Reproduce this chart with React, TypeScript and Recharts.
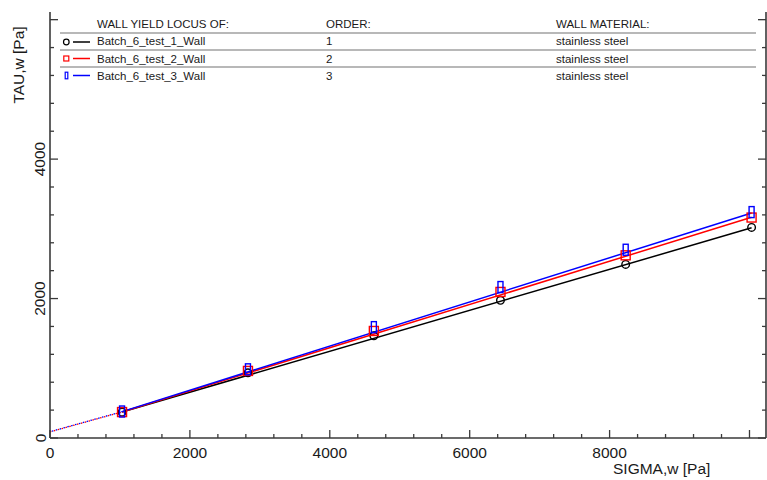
import React from 'react';
import { ComposedChart, Line, Scatter, XAxis, YAxis } from 'recharts';

// ---- data ----
const sigma = [1030, 2830, 4630, 6440, 8230, 10030];
const tauTest1 = [370, 935, 1465, 1975, 2490, 3020];
const tauTest2 = [372, 962, 1535, 2095, 2620, 3162];
const tauTest3 = [380, 985, 1590, 2165, 2700, 3240];

const fitSigma = [1030, 10030];
const fitTest1 = [372, 3015];
const fitTest2 = [374, 3165];
const fitTest3 = [378, 3228];

const extSigma = [0, 1030];
const extTest2 = [88, 374];
const extTest3 = [90, 378];

const seriesNames = ['Batch_6_test_1_Wall', 'Batch_6_test_2_Wall', 'Batch_6_test_3_Wall'];
const seriesOrder = ['1', '2', '3'];
const wallMaterials = ['stainless steel', 'stainless steel', 'stainless steel'];
const legendHeaders = ['WALL YIELD LOCUS OF:', 'ORDER:', 'WALL MATERIAL:'];
const seriesColors = ['#000000', '#ff0000', '#0000ff'];

const xTicks = [0, 400, 800, 1200, 1600, 2000, 2400, 2800, 3200, 3600, 4000, 4400, 4800, 5200, 5600, 6000, 6400, 6800, 7200, 7600, 8000, 8400, 8800, 9200, 9600, 10000];
const xLabelTicks = [0, 2000, 4000, 6000, 8000];
const yTicks = [0, 400, 800, 1200, 1600, 2000, 2400, 2800, 3200, 3600, 4000, 4400, 4800, 5200, 5600, 6000];
const yLabelTicks = [0, 2000, 4000];
const xMajor = [0, 2000, 4000, 6000, 8000, 10000];
const yMajor = [0, 2000, 4000, 6000];

const xTitle = 'SIGMA,w [Pa]';
const yTitle = 'TAU,w [Pa]';

const toPts = (xs: number[], ys: number[]) => xs.map((x, i) => ({ x, y: ys[i] }));

const pts1 = toPts(sigma, tauTest1);
const pts2 = toPts(sigma, tauTest2);
const pts3 = toPts(sigma, tauTest3);
const fit1 = toPts(fitSigma, fitTest1);
const fit2 = toPts(fitSigma, fitTest2);
const fit3 = toPts(fitSigma, fitTest3);
const ext2 = toPts(extSigma, extTest2);
const ext3 = toPts(extSigma, extTest3);

const FONT = '"Liberation Sans", Arial, sans-serif';
const AXIS = '#3a3a3a';
const TXT = '#1a1a1a';

const BottomTick = (p: any) => {
  const { x, y, payload } = p;
  const v = payload.value;
  const major = xMajor.includes(v);
  return (
    <g>
      <line x1={x} x2={x} y1={y} y2={y - (major ? 8 : 4)} stroke={AXIS} strokeWidth={1.3} />
      {xLabelTicks.includes(v) && (
        <text x={x} y={y + 19.5} textAnchor="middle" fontSize={15.5} fontFamily={FONT} fill={TXT}>
          {v}
        </text>
      )}
    </g>
  );
};

const TopTick = (p: any) => {
  const { x, y, payload } = p;
  const major = xMajor.includes(payload.value);
  return <line x1={x} x2={x} y1={y} y2={y + (major ? 8 : 4)} stroke={AXIS} strokeWidth={1.3} />;
};

const LeftTick = (p: any) => {
  const { x, y, payload } = p;
  const v = payload.value;
  const major = yMajor.includes(v);
  return (
    <g>
      <line x1={x} x2={x + (major ? 8 : 4)} y1={y} y2={y} stroke={AXIS} strokeWidth={1.3} />
      {yLabelTicks.includes(v) && (
        <text
          x={x - 4.5}
          y={y}
          transform={`rotate(-90 ${x - 4.5} ${y})`}
          textAnchor="middle"
          fontSize={15.5}
          fontFamily={FONT}
          fill={TXT}
        >
          {v}
        </text>
      )}
    </g>
  );
};

const RightTick = (p: any) => {
  const { x, y, payload } = p;
  const major = yMajor.includes(payload.value);
  return <line x1={x} x2={x - (major ? 8 : 4)} y1={y} y2={y} stroke={AXIS} strokeWidth={1.3} />;
};

const CircleShape = (p: any) => (
  <circle cx={p.cx} cy={p.cy} r={3.8} fill="none" stroke="#000" strokeWidth={1.4} />
);
const SquareShape = (p: any) => (
  <rect x={p.cx - 4.5} y={p.cy - 4.5} width={9} height={9} fill="none" stroke="#ff0000" strokeWidth={1.4} />
);
const RectShape = (p: any) => (
  <rect x={p.cx - 2.5} y={p.cy - 5.5} width={5} height={11} fill="none" stroke="#0000ff" strokeWidth={1.4} />
);

const LegendTable = () => {
  const rowY = [45, 62.5, 80];
  const centerY = [42, 58.5, 75.5];
  const lineY = [33, 50, 67];
  const colX = [97, 326, 556];
  return (
    <g fontFamily={FONT} fontSize={11.5} fill={TXT}>
      {legendHeaders.map((h, i) => (
        <text key={h} x={colX[i]} y={28.3}>
          {h}
        </text>
      ))}
      {lineY.map((ly) => (
        <line key={ly} x1={60} x2={756} y1={ly} y2={ly} stroke="#a0a0a0" strokeWidth={1.4} />
      ))}
      {seriesNames.map((n, i) => (
        <g key={n}>
          <line x1={73} x2={90} y1={centerY[i]} y2={centerY[i]} stroke={seriesColors[i]} strokeWidth={1.5} />
          {i === 0 && <circle cx={66.3} cy={centerY[i]} r={2.8} fill="none" stroke="#000" strokeWidth={1.2} />}
          {i === 1 && (
            <rect x={63.8} y={centerY[i] - 2.5} width={5} height={5} fill="none" stroke="#ff0000" strokeWidth={1.2} />
          )}
          {i === 2 && (
            <rect x={65.2} y={centerY[i] - 3.3} width={2.6} height={6.6} fill="none" stroke="#0000ff" strokeWidth={1.2} />
          )}
          <text x={colX[0]} y={rowY[i]}>
            {n}
          </text>
          <text x={colX[1]} y={rowY[i]}>
            {seriesOrder[i]}
          </text>
          <text x={colX[2]} y={rowY[i]}>
            {wallMaterials[i]}
          </text>
        </g>
      ))}
    </g>
  );
};

export default function App() {
  return (
    <div style={{ position: 'absolute', left: 0, top: 0, width: 767, height: 480, background: '#fff' }}>
      <ComposedChart width={767} height={480} margin={{ top: 12, right: 0, bottom: 0, left: 0 }}>
        <XAxis
          xAxisId={0}
          dataKey="x"
          type="number"
          domain={[0, 10236]}
          allowDataOverflow
          ticks={xTicks}
          interval={0}
          height={42}
          tickSize={0}
          tickMargin={0}
          tick={<BottomTick />}
          axisLine={{ stroke: AXIS, strokeWidth: 1.6 }}
        />
        <XAxis
          xAxisId="top"
          orientation="top"
          dataKey="x"
          type="number"
          domain={[0, 10236]}
          allowDataOverflow
          ticks={xTicks}
          interval={0}
          height={0}
          tickSize={0}
          tickMargin={0}
          tick={<TopTick />}
          axisLine={{ stroke: AXIS, strokeWidth: 1.6 }}
        />
        <YAxis
          yAxisId={0}
          dataKey="y"
          type="number"
          domain={[0, 6110]}
          allowDataOverflow
          ticks={yTicks}
          interval={0}
          width={50}
          tickSize={0}
          tickMargin={0}
          tick={<LeftTick />}
          axisLine={{ stroke: AXIS, strokeWidth: 1.6 }}
        />
        <YAxis
          yAxisId="right"
          orientation="right"
          dataKey="y"
          type="number"
          domain={[0, 6110]}
          allowDataOverflow
          ticks={yTicks}
          interval={0}
          width={1}
          tickSize={0}
          tickMargin={0}
          tick={<RightTick />}
          axisLine={{ stroke: AXIS, strokeWidth: 1.6 }}
        />

        <Line data={ext2} dataKey="y" stroke="#ff0000" strokeWidth={1.3} strokeDasharray="1.5 2.5" dot={false} isAnimationActive={false} />
        <Line data={ext3} dataKey="y" stroke="#0000ff" strokeWidth={1.3} strokeDasharray="1.5 2.5" strokeDashoffset={2} dot={false} isAnimationActive={false} />

        <Line data={fit1} dataKey="y" stroke="#000000" strokeWidth={1.5} dot={false} isAnimationActive={false} />
        <Line data={fit2} dataKey="y" stroke="#ff0000" strokeWidth={1.5} dot={false} isAnimationActive={false} />
        <Line data={fit3} dataKey="y" stroke="#0000ff" strokeWidth={1.5} dot={false} isAnimationActive={false} />

        <Scatter data={pts1} dataKey="y" shape={<CircleShape />} isAnimationActive={false} />
        <Scatter data={pts2} dataKey="y" shape={<SquareShape />} isAnimationActive={false} />
        <Scatter data={pts3} dataKey="y" shape={<RectShape />} isAnimationActive={false} />

        <LegendTable />

        <text
          x={24}
          y={65}
          transform="rotate(-90 24 65)"
          textAnchor="middle"
          fontSize={15.5}
          fontFamily={FONT}
          fill={TXT}
        >
          {yTitle}
        </text>
        <text x={613} y={473.5} fontSize={15.5} fontFamily={FONT} fill={TXT}>
          {xTitle}
        </text>
      </ComposedChart>
    </div>
  );
}
